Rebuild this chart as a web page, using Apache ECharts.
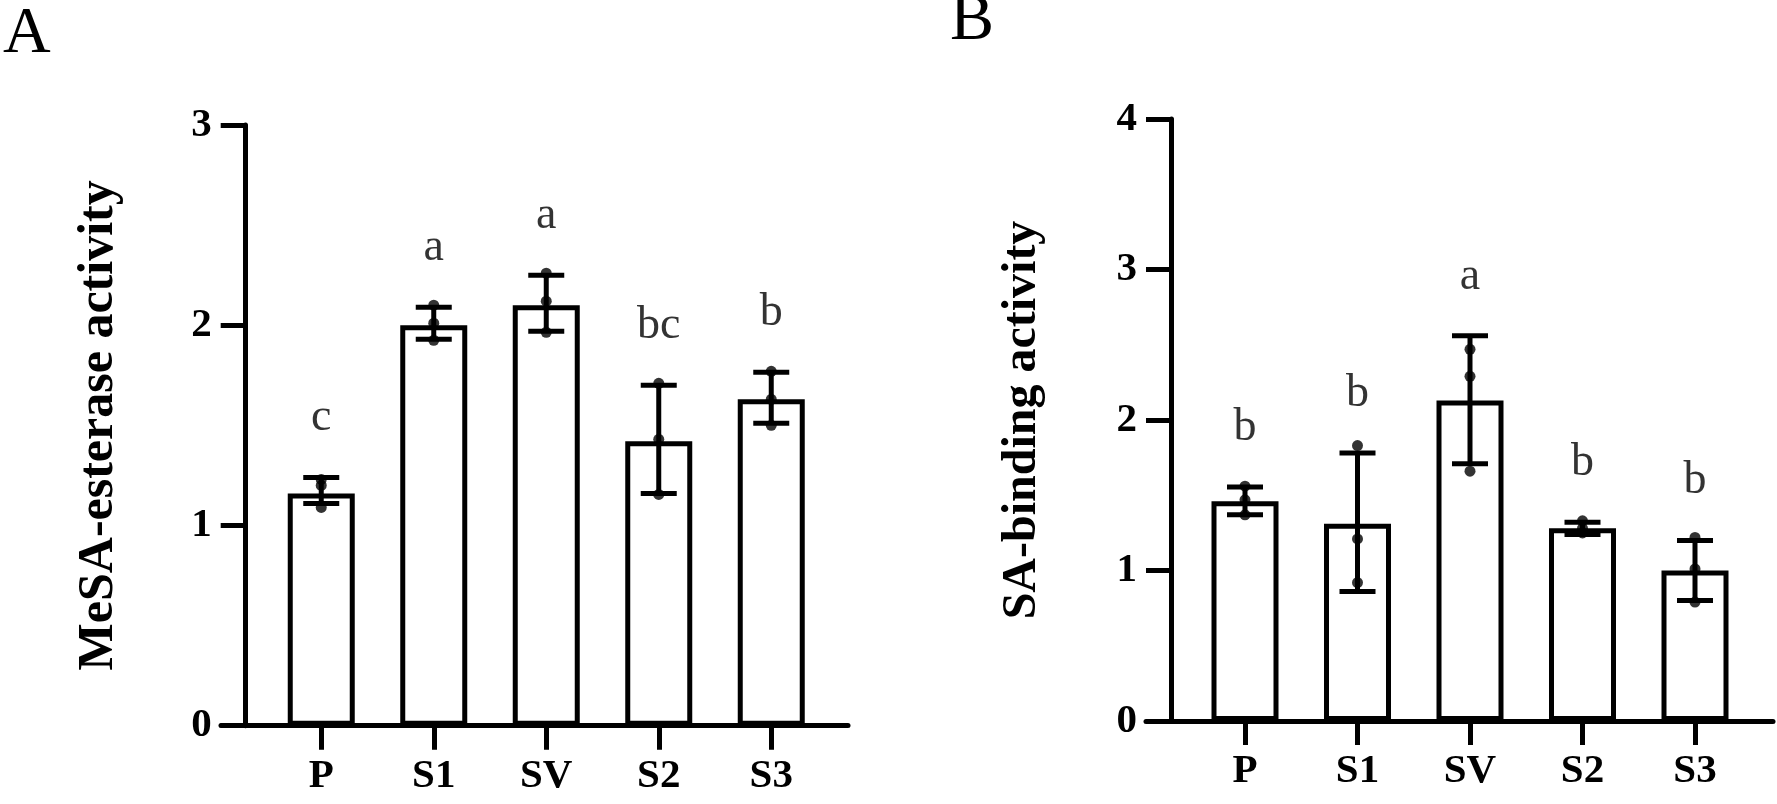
<!DOCTYPE html>
<html>
<head>
<meta charset="utf-8">
<script src="https://cdn.jsdelivr.net/npm/echarts@6/dist/echarts.min.js"></script>
<style>
  html, body { margin: 0; padding: 0; background: #fff; }
  #chart { width: 1777px; height: 804px; }
</style>
</head>
<body>
<div id="chart"></div>
<script>
// ------------------------------
// Data
// ------------------------------
var categories = ['P', 'S1', 'SV', 'S2', 'S3'];

// Panel A - MeSA-esterase activity
var meanA = [1.16, 2.00, 2.10, 1.42, 1.63];
var lowA = [1.11, 1.93, 1.97, 1.16, 1.51];
var highA = [1.24, 2.09, 2.25, 1.70, 1.765];
var pointsA = [
    [1.23, 1.20, 1.09],
    [2.10, 2.01, 1.925],
    [2.26, 2.12, 1.965],
    [1.71, 1.43, 1.155],
    [1.77, 1.63, 1.50]
];
var lettersA = ['c', 'a', 'a', 'bc', 'b'];

// Panel B - SA-binding activity
var meanB = [1.46, 1.31, 2.13, 1.28, 1.00];
var lowB = [1.37, 0.86, 1.71, 1.24, 0.80];
var highB = [1.555, 1.78, 2.56, 1.32, 1.20];
var pointsB = [
    [1.56, 1.47, 1.37],
    [1.83, 1.21, 0.92],
    [2.47, 2.29, 1.66],
    [1.33, 1.28, 1.25],
    [1.22, 1.01, 0.79]
];
var lettersB = ['b', 'b', 'a', 'b', 'b'];

var serif = '"Liberation Serif", "Times New Roman", serif';
var black = '#000';

var chart = echarts.init(document.getElementById('chart'));

// flatten replicate points into [categoryIndex, value]
function pointData(points) {
    var out = [];
    points.forEach(function (vals, i) {
        vals.forEach(function (v) { out.push([i, v]); });
    });
    return out;
}

// error bar: vertical line + two caps
function renderError(params, api) {
    var i = api.value(0);
    var top = api.coord([i, api.value(2)]);
    var bot = api.coord([i, api.value(1)]);
    var half = 18;
    var style = { stroke: black, lineWidth: 5 };
    return {
        type: 'group',
        children: [
            { type: 'line', shape: { x1: top[0], y1: top[1], x2: bot[0], y2: bot[1] }, style: style },
            { type: 'line', shape: { x1: top[0] - half, y1: top[1], x2: top[0] + half, y2: top[1] }, style: style },
            { type: 'line', shape: { x1: bot[0] - half, y1: bot[1], x2: bot[0] + half, y2: bot[1] }, style: style }
        ]
    };
}

function errData(low, high) {
    return low.map(function (l, i) { return [i, l, high[i]]; });
}

function letterData(high) {
    return high.map(function (h, i) { return [i, h]; });
}

// category axis (bars sit on it)
function catAxis(grid) {
    return {
        type: 'category',
        gridIndex: grid,
        data: categories,
        boundaryGap: true,
        axisLine: { show: false },
        axisTick: { show: true, alignWithLabel: true, length: 24, lineStyle: { color: black, width: 5 } },
        axisLabel: { margin: 30, color: black, fontFamily: serif, fontWeight: 'bold', fontSize: 41 },
        splitLine: { show: false }
    };
}

// long baseline that runs past the bars
function baseAxis(grid) {
    return {
        type: 'value',
        gridIndex: grid,
        min: 0,
        max: 1,
        axisLine: { show: true, onZero: false, lineStyle: { color: black, width: 5 } },
        axisTick: { show: false },
        axisLabel: { show: false },
        splitLine: { show: false }
    };
}

function valAxis(grid, max, name, nameSize, offset, gap) {
    return {
        type: 'value',
        gridIndex: grid,
        min: 0,
        max: max,
        interval: 1,
        offset: offset,
        name: name,
        nameLocation: 'middle',
        nameGap: gap,
        nameTextStyle: { color: black, fontFamily: serif, fontWeight: 'bold', fontSize: nameSize },
        axisLine: { show: true, lineStyle: { color: black, width: 5 } },
        axisTick: { show: true, length: 25, lineStyle: { color: black, width: 5 } },
        axisLabel: { margin: 34, color: black, fontFamily: serif, fontWeight: 'bold', fontSize: 41 },
        splitLine: { show: false }
    };
}

function hiddenAxis(grid) {
    return { type: 'value', gridIndex: grid, min: 0, max: 1, show: false };
}

function panelSeries(xi, mean, low, high, points, letters) {
    return [
        {
            type: 'bar',
            xAxisIndex: xi,
            yAxisIndex: xi,
            barWidth: 67,
            data: mean,
            itemStyle: { color: '#fff', borderColor: black, borderWidth: 5 },
            silent: true,
            z: 2
        },
        {
            type: 'custom',
            xAxisIndex: xi,
            yAxisIndex: xi,
            data: errData(low, high),
            renderItem: renderError,
            silent: true,
            z: 3
        },
        {
            type: 'scatter',
            xAxisIndex: xi,
            yAxisIndex: xi,
            data: pointData(points),
            symbol: 'circle',
            symbolSize: 11,
            itemStyle: { color: black },
            silent: true,
            z: 4
        },
        {
            type: 'scatter',
            xAxisIndex: xi,
            yAxisIndex: xi,
            data: letterData(high),
            symbolSize: 0,
            silent: true,
            label: {
                show: true,
                position: 'top',
                distance: 36,
                formatter: function (p) { return letters[p.dataIndex]; },
                color: black,
                fontFamily: serif,
                fontSize: 46
            },
            z: 5
        }
    ];
}

var option = {
    backgroundColor: '#fff',
    animation: false,

    // Panel letters
    title: [
        { text: 'A', left: 3, top: 2, padding: 0, textStyle: { fontFamily: serif, fontWeight: 'normal', fontSize: 66, color: black } },
        { text: 'B', left: 950, top: -11, padding: 0, textStyle: { fontFamily: serif, fontWeight: 'normal', fontSize: 66, color: black } }
    ],

    // Setup grid
    grid: [
        { left: 265, width: 562.5, top: 125, bottom: 78.3 },
        { left: 221, right: 929, top: 125, bottom: 78.3 },
        { left: 1188.75, width: 562.5, top: 119, bottom: 83 },
        { left: 1146, right: 4, top: 119, bottom: 83 }
    ],

    xAxis: [catAxis(0), baseAxis(1), catAxis(2), baseAxis(3)],

    yAxis: [
        valAxis(0, 3, 'MeSA-esterase activity', 50, 19.3, 122),
        hiddenAxis(1),
        valAxis(2, 4, 'SA-binding activity', 48, 17.75, 124),
        hiddenAxis(3)
    ],

    series: []
};

// main axes: A -> 0, B -> 2
option.series = option.series
    .concat(panelSeries(0, meanA, lowA, highA, pointsA, lettersA))
    .concat(panelSeries(2, meanB, lowB, highB, pointsB, lettersB));

chart.setOption(option);
</script>
</body>
</html>
